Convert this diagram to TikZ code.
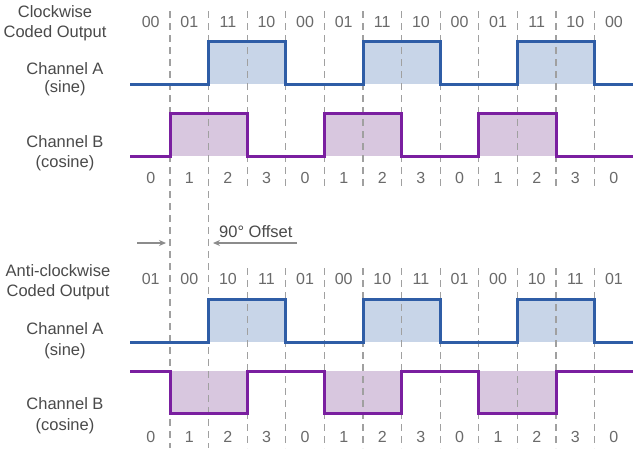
\documentclass[tikz,border=0pt]{standalone}
\usepackage{fontspec}
\setmainfont{Liberation Sans}
\usetikzlibrary{arrows.meta}
\definecolor{chA}{HTML}{2F5DA6}
\definecolor{chAfill}{HTML}{C8D5E8}
\definecolor{chB}{HTML}{7A1FA0}
\definecolor{chBfill}{HTML}{D8C7DF}
\definecolor{txt}{HTML}{4A4A4A}
\definecolor{dig}{HTML}{6A6A6A}
\definecolor{gridc}{HTML}{A0A0A0}
\definecolor{arrc}{HTML}{8C8C8C}
\begin{document}
\begin{tikzpicture}[x=1pt,y=-1pt,
  lbl/.style={anchor=base,font=\fontsize{16.5}{18}\selectfont,text=txt,inner sep=0pt},
  dg/.style={anchor=base,font=\fontsize{16}{18}\selectfont,text=dig,inner sep=0pt},
  gridline/.style={draw=gridc,line width=1.2pt,dash pattern=on 7pt off 5pt},
  sigA/.style={draw=chA,line width=3pt,line join=miter},
  sigB/.style={draw=chB,line width=3pt,line join=miter},
  fillA/.style={fill=chAfill},
  fillB/.style={fill=chBfill},
  offarrow/.style={draw=arrc,line width=1.3pt,-{Stealth[length=7pt,width=6pt]}}]
\useasboundingbox[fill=white] (0,0) rectangle (640,459);

% ---------- fills ----------
% clockwise
\foreach \a/\b in {208.6/285.8,363/440.2,517.4/594.6}
  \path[fillA] (\a,41) rectangle (\b,84);
\foreach \a/\b in {170/247.2,324.4/401.6,478.8/556}
  \path[fillB] (\a,113) rectangle (\b,156);
% anti-clockwise
\foreach \a/\b in {208.6/285.8,363/440.2,517.4/594.6}
  \path[fillA] (\a,299) rectangle (\b,342);
\foreach \a/\b in {170/247.2,324.4/401.6,478.8/556}
  \path[fillB] (\a,371) rectangle (\b,413);

% ---------- dashed grid ----------
\foreach \x in {170,208.6}
  \draw[gridline] (\x,11) -- (\x,448);
\foreach \x in {247.2,285.8,324.4,363,401.6,440.2,478.8,517.4,556,594.6}{
  \draw[gridline] (\x,11) -- (\x,190);
  \draw[gridline] (\x,268) -- (\x,448);
}

% ---------- waveforms ----------
\draw[sigA] (130,84) -- (208.6,84) -- (208.6,41) -- (285.8,41) -- (285.8,84)
  -- (363,84) -- (363,41) -- (440.2,41) -- (440.2,84)
  -- (517.4,84) -- (517.4,41) -- (594.6,41) -- (594.6,84) -- (633,84);
\draw[sigB] (130,156) -- (170,156) -- (170,113) -- (247.2,113) -- (247.2,156)
  -- (324.4,156) -- (324.4,113) -- (401.6,113) -- (401.6,156)
  -- (478.8,156) -- (478.8,113) -- (556,113) -- (556,156) -- (633,156);
\draw[sigA] (130,342) -- (208.6,342) -- (208.6,299) -- (285.8,299) -- (285.8,342)
  -- (363,342) -- (363,299) -- (440.2,299) -- (440.2,342)
  -- (517.4,342) -- (517.4,299) -- (594.6,299) -- (594.6,342) -- (633,342);
\draw[sigB] (130,371) -- (170,371) -- (170,413) -- (247.2,413) -- (247.2,371)
  -- (324.4,371) -- (324.4,413) -- (401.6,413) -- (401.6,371)
  -- (478.8,371) -- (478.8,413) -- (556,413) -- (556,371) -- (633,371);

% ---------- state codes and counts ----------
\foreach \t [count=\i from 0] in {00,01,11,10,00,01,11,10,00,01,11,10,00}
  \node[dg] (cw\i) at ({150.7+38.6*\i},27) {\t};
\foreach \t [count=\i from 0] in {0,1,2,3,0,1,2,3,0,1,2,3,0}
  \node[dg] (cwn\i) at ({150.7+38.6*\i},183) {\t};
\foreach \t [count=\i from 0] in {01,00,10,11,01,00,10,11,01,00,10,11,01}
  \node[dg] (acw\i) at ({150.7+38.6*\i},284) {\t};
\foreach \t [count=\i from 0] in {0,1,2,3,0,1,2,3,0,1,2,3,0}
  \node[dg] (acwn\i) at ({150.7+38.6*\i},442) {\t};

% ---------- left labels ----------
\node[lbl] (t1) at (55,17) {Clockwise};
\node[lbl] (t2) at (55,37) {Coded Output};
\node[lbl] (t3) at (65,74) {Channel A};
\node[lbl] (t4) at (65,92) {(sine)};
\node[lbl] (t5) at (65,147) {Channel B};
\node[lbl] (t6) at (65,167) {(cosine)};
\node[lbl] (b1) at (58,276) {Anti-clockwise};
\node[lbl] (b2) at (58,296) {Coded Output};
\node[lbl] (b3) at (65,334) {Channel A};
\node[lbl] (b4) at (65,355) {(sine)};
\node[lbl] (b5) at (65,409) {Channel B};
\node[lbl] (b6) at (65,430) {(cosine)};

% ---------- 90 degree offset ----------
\node[lbl,anchor=base west] (off) at (219,237) {90\textdegree{} Offset};
\coordinate (aL0) at (137,243);
\coordinate (aL1) at (166,243);
\coordinate (aR0) at (297,243);
\coordinate (aR1) at (213,243);
\draw[offarrow] (aL0) -- (aL1);
\draw[offarrow] (aR0) -- (aR1);
\end{tikzpicture}
\end{document}
